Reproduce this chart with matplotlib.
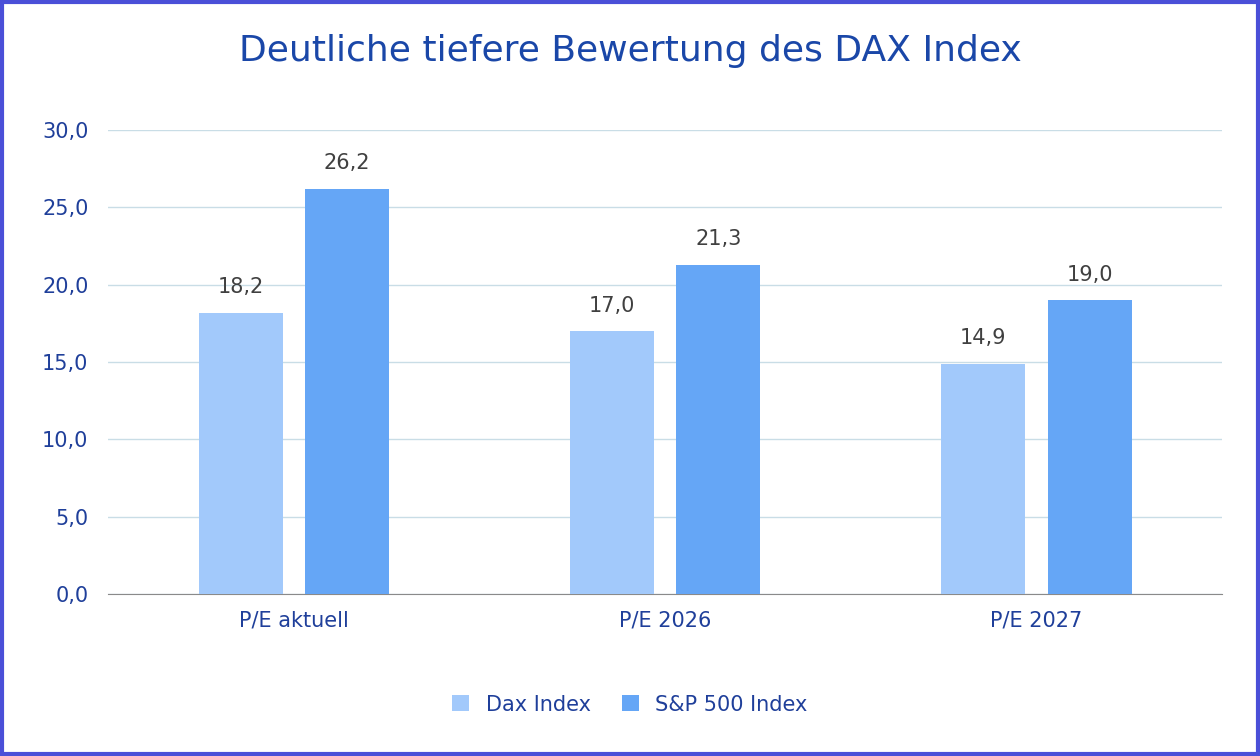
import matplotlib.pyplot as plt
import numpy as np

categories = ["P/E aktuell", "P/E 2026", "P/E 2027"]
dax = [18.2, 17.0, 14.9]
spx = [26.2, 21.3, 19.0]
series_names = ["Dax Index", "S&P 500 Index"]
yticks = [0, 5, 10, 15, 20, 25, 30]

def fmt(v):
    return f"{v:.1f}".replace(".", ",")

fig = plt.figure(figsize=(12.6, 7.56), dpi=100)
ax = fig.add_axes([0.0857, 0.2143, 0.8843, 0.6137])

x = np.arange(len(categories))
w = 0.226
off = 0.143
b1 = ax.bar(x - off, dax, w, color="#a2c9fb", label=series_names[0], zorder=3)
b2 = ax.bar(x + off, spx, w, color="#65a6f6", label=series_names[1], zorder=3)

for bars, vals in [(b1, dax), (b2, spx)]:
    for r, v in zip(bars, vals):
        ax.text(r.get_x() + r.get_width() / 2, v + 1.0, fmt(v), ha="center",
                va="bottom", fontsize=15, color="#404040")

ax.set_xlim(-0.5, 2.5)
ax.set_ylim(0, 30)
ax.set_yticks(yticks)
ax.set_yticklabels([fmt(v) for v in yticks], fontsize=15, color="#1f3f9a")
ax.set_xticks(x)
ax.set_xticklabels(categories, fontsize=15, color="#1f3f9a")
ax.tick_params(length=0, pad=12)
ax.tick_params(axis="y", pad=14)
ax.grid(axis="y", color="#c9dde6", linewidth=1, zorder=0)
for s in ["top", "right", "left"]:
    ax.spines[s].set_visible(False)
ax.spines["bottom"].set_color("#8a8a8a")

fig.suptitle("Deutliche tiefere Bewertung des DAX Index", y=0.955,
             fontsize=26, color="#1a47a8")
leg = fig.legend(loc="center", bbox_to_anchor=(0.5, 0.068), ncol=2,
                 frameon=False, fontsize=15, handlelength=0.8,
                 handleheight=0.8, columnspacing=1.5)
for t in leg.get_texts():
    t.set_color("#1f3f9a")

fig.patches.append(plt.Rectangle((0.0015, 0.0025), 0.997, 0.995,
                                 transform=fig.transFigure, fill=False,
                                 edgecolor="#4a4fd8", linewidth=3))
fig.savefig("out.png", dpi=100)
